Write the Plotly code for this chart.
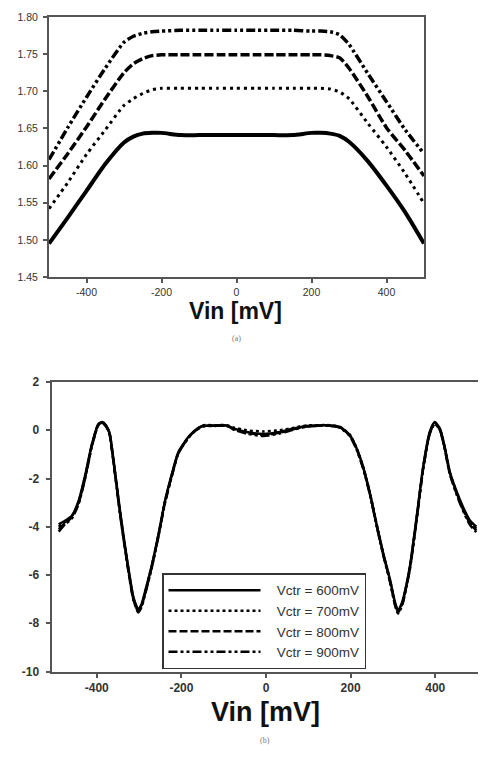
import plotly.graph_objects as go

# ---------------- data: panel (a) ----------------
vin_a = [-500, -450, -400, -350, -300, -275, -250, -225, -200, -150, -100, -50, 0,
         50, 100, 150, 200, 225, 250, 275, 300, 350, 400, 450, 500]
a_600 = [1.495, 1.530, 1.566, 1.602, 1.631, 1.639, 1.643, 1.644, 1.644, 1.641, 1.641, 1.641, 1.641,
         1.641, 1.641, 1.641, 1.644, 1.644, 1.643, 1.640, 1.632, 1.606, 1.573, 1.537, 1.495]
a_700 = [1.542, 1.577, 1.615, 1.648, 1.681, 1.690, 1.697, 1.702, 1.704, 1.704, 1.704, 1.704, 1.704,
         1.704, 1.704, 1.704, 1.704, 1.704, 1.703, 1.699, 1.690, 1.657, 1.625, 1.589, 1.549]
a_800 = [1.582, 1.616, 1.652, 1.690, 1.725, 1.737, 1.744, 1.748, 1.749, 1.749, 1.749, 1.749, 1.749,
         1.749, 1.749, 1.749, 1.749, 1.749, 1.748, 1.745, 1.731, 1.693, 1.651, 1.620, 1.586]
a_900 = [1.608, 1.651, 1.692, 1.731, 1.766, 1.774, 1.778, 1.780, 1.781, 1.782, 1.782, 1.782, 1.782,
         1.782, 1.782, 1.782, 1.781, 1.781, 1.780, 1.776, 1.763, 1.724, 1.686, 1.648, 1.616]

# ---------------- data: panel (b) ----------------
vin_b = [-490, -475, -459, -443, -427, -412, -396, -387, -378, -370, -361, -345, -329, -313,
         -302, -294, -286, -270, -254, -239, -223, -207, -183, -167, -150, -120, -93, -77, -46,
         -6, 33, 64, 96, 120, 151, 175, 198, 214, 230, 246, 261, 277, 293, 305, 312, 318, 324,
         340, 356, 371, 387, 399, 411, 423, 434, 450, 466, 482, 497]
b_600 = [-3.90, -3.75, -3.55, -2.93, -1.84, -0.61, 0.27, 0.34, 0.20, -0.10, -1.16, -3.35, -5.30, -6.95,
         -7.42, -7.20, -6.70, -5.60, -4.30, -2.95, -1.85, -0.90, -0.27, 0.00, 0.18, 0.20, 0.20, 0.08, -0.07,
         -0.15, -0.07, 0.07, 0.18, 0.20, 0.20, 0.13, -0.20, -0.75, -1.56, -2.65, -3.88, -5.10, -6.19, -7.14, -7.48, -7.30, -7.00,
         -5.65, -3.60, -1.56, -0.07, 0.34, 0.07, -0.75, -1.70, -2.52, -3.20, -3.74, -4.00]
b_700 = [-4.00, -3.80, -3.58, -2.98, -1.88, -0.64, 0.25, 0.32, 0.18, -0.12, -1.20, -3.40, -5.35, -7.00,
         -7.45, -7.24, -6.74, -5.63, -4.33, -2.98, -1.88, -0.92, -0.28, 0.01, 0.20, 0.21, 0.21, 0.12, 0.00,
         -0.05, 0.00, 0.10, 0.20, 0.21, 0.21, 0.14, -0.18, -0.73, -1.54, -2.63, -3.86, -5.12, -6.22, -7.18, -7.52, -7.34, -7.04,
         -5.69, -3.64, -1.60, -0.10, 0.31, 0.04, -0.78, -1.73, -2.56, -3.25, -3.80, -4.08]
b_800 = [-4.10, -3.85, -3.62, -3.02, -1.92, -0.67, 0.23, 0.31, 0.17, -0.14, -1.22, -3.44, -5.38, -7.03,
         -7.50, -7.28, -6.78, -5.66, -4.35, -3.00, -1.90, -0.94, -0.30, -0.01, 0.17, 0.19, 0.19, 0.05, -0.10,
         -0.20, -0.10, 0.04, 0.16, 0.19, 0.19, 0.12, -0.22, -0.77, -1.58, -2.67, -3.90, -5.14, -6.25, -7.22, -7.56, -7.38, -7.08,
         -5.72, -3.68, -1.63, -0.12, 0.29, 0.02, -0.80, -1.76, -2.60, -3.30, -3.86, -4.15]
b_900 = [-4.20, -3.90, -3.66, -3.06, -1.96, -0.70, 0.21, 0.30, 0.15, -0.16, -1.25, -3.48, -5.42, -7.06,
         -7.55, -7.32, -6.82, -5.70, -4.38, -3.03, -1.93, -0.96, -0.31, -0.02, 0.15, 0.18, 0.18, 0.03, -0.14,
         -0.24, -0.13, 0.02, 0.15, 0.18, 0.18, 0.10, -0.24, -0.80, -1.61, -2.70, -3.93, -5.17, -6.28, -7.26, -7.60, -7.42, -7.12,
         -5.76, -3.72, -1.66, -0.15, 0.27, 0.00, -0.83, -1.79, -2.64, -3.35, -3.92, -4.22]

series_names = ["Vctr = 600mV", "Vctr = 700mV", "Vctr = 800mV", "Vctr = 900mV"]

# tick labels
a_xticks = [-400, -200, 0, 200, 400]
a_xticktext = ["-400", "-200", "0", "200", "400"]
a_yticks = [1.45, 1.50, 1.55, 1.60, 1.65, 1.70, 1.75, 1.80]
a_yticktext = ["1.45", "1.50", "1.55", "1.60", "1.65", "1.70", "1.75", "1.80"]
b_xticks = [-400, -200, 0, 200, 400]
b_xticktext = ["-400", "-200", "0", "200", "400"]
b_yticks = [-10, -8, -6, -4, -2, 0, 2]
b_yticktext = ["-10", "-8", "-6", "-4", "-2", "0", "2"]

# The page body has an 8px margin, so the figure is sized to fit the window
# and layout positions (given in window pixels) are shifted accordingly.
OFF = 8
W, H = 486 - OFF, 758 - OFF


def px(x):
    return (x - OFF) / W


def py(y):
    return 1 - (y - OFF) / H


FONT = "Liberation Sans, Arial, sans-serif"
NB = "\u00a0\u00a0\u00a0"

a_styles = [
    dict(width=4, dash="solid"),
    dict(width=3, dash="3px,4px"),
    dict(width=3.5, dash="9px,3px"),
    dict(width=3.5, dash="9px,3px,3px,3px,3px,3px"),
]
b_styles = [
    dict(width=2.5, dash="solid"),
    dict(width=2.5, dash="3px,3px"),
    dict(width=2.5, dash="8px,3px"),
    dict(width=2.5, dash="9px,3px,3px,3px,3px,3px"),
]

fig = go.Figure()
for ys, st in zip([a_600, a_700, a_800, a_900], a_styles):
    fig.add_trace(go.Scatter(x=vin_a, y=ys, mode="lines", xaxis="x", yaxis="y",
                             line=dict(color="black", shape="spline", smoothing=0.6, **st),
                             showlegend=False, hoverinfo="skip"))
for ys, nm, st in zip([b_600, b_700, b_800, b_900], series_names, b_styles):
    fig.add_trace(go.Scatter(x=vin_b, y=ys, mode="lines", xaxis="x2", yaxis="y2", name=NB + nm,
                             line=dict(color="black", shape="spline", smoothing=0.6, **st)))

axis_common = dict(showline=True, mirror=True, linecolor="#555", linewidth=2,
                   ticks="outside", ticklen=4, tickwidth=1.5, tickcolor="#555",
                   showgrid=False, zeroline=False, tickmode="array")

fig.update_layout(
    width=W, height=H,
    margin=dict(l=0, r=0, t=0, b=0),
    paper_bgcolor="white", plot_bgcolor="white",
    font=dict(family=FONT, color="#333"),
    xaxis=dict(domain=[px(49), px(424)], range=[-500, 500], anchor="y",
               tickvals=a_xticks, ticktext=a_xticktext,
               tickfont=dict(size=10.5, color="#333"), **axis_common),
    yaxis=dict(domain=[py(275), py(10)], range=[1.45, 1.80], anchor="x",
               tickvals=a_yticks, ticktext=a_yticktext, ticklabelstandoff=3,
               tickfont=dict(size=10.5, color="#333"), **axis_common),
    xaxis2=dict(domain=[px(51.5), px(478)], range=[-507, 501], anchor="y2",
                tickvals=b_xticks, ticktext=b_xticktext,
                tickfont=dict(size=12, color="#333", weight="bold"), **axis_common),
    yaxis2=dict(domain=[py(677), py(382)], range=[-10, 2], anchor="x2",
                tickvals=b_yticks, ticktext=b_yticktext, ticklabelstandoff=4,
                tickfont=dict(size=12, color="#333", weight="bold"), **axis_common),
    showlegend=True,
    legend=dict(x=px(162), y=py(577), xanchor="left", yanchor="top",
                bgcolor="white", bordercolor="#333", borderwidth=1.5,
                font=dict(size=13.5, color="#333", family=FONT),
                itemwidth=92, tracegroupgap=0),
    annotations=[
        dict(text="<b>Vin [mV]</b>", x=px(235), y=py(310), xref="paper", yref="paper",
             xanchor="center", showarrow=False,
             font=dict(size=23, color="#111", family=FONT), yanchor="middle"),
        dict(text="(a)", x=px(236), y=py(338), xref="paper", yref="paper",
             xanchor="center", showarrow=False,
             font=dict(size=8, color="#777", family="Liberation Serif, serif"), yanchor="middle"),
        dict(text="<b>Vin [mV]</b>", x=px(265), y=py(718), xref="paper", yref="paper",
             xanchor="center", showarrow=False,
             font=dict(size=27, color="#111", family=FONT), yanchor="middle"),
        dict(text="(b)", x=px(265), y=py(747), xref="paper", yref="paper",
             xanchor="center", showarrow=False,
             font=dict(size=8, color="#777", family="Liberation Serif, serif"), yanchor="middle"),
    ],
)

fig.write_html("out.html")
